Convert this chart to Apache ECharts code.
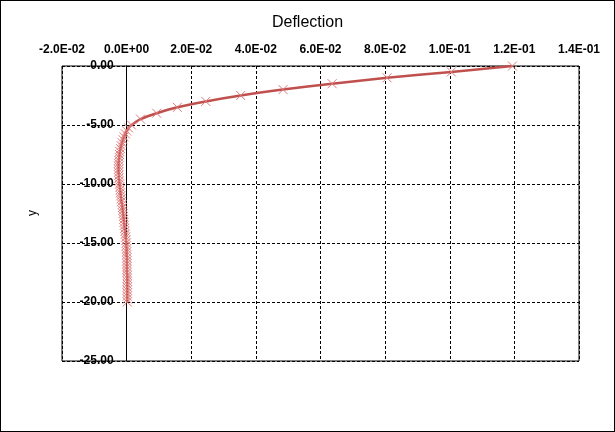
<!DOCTYPE html>
<html>
<head>
<meta charset="utf-8">
<script src="https://cdn.jsdelivr.net/npm/echarts@6/dist/echarts.min.js"></script>
<style>
html,body{margin:0;padding:0;background:#fff;}
#frame{position:absolute;left:0;top:0;width:615px;height:432px;box-sizing:border-box;border:1px solid #000;}
#chart{position:absolute;left:0;top:0;width:615px;height:432px;}
</style>
</head>
<body>
<div id="chart"></div>
<div id="frame"></div>
<script>
// Depth values (y) and deflection values (x)
const depth = [0, -0.5, -1, -1.5, -2, -2.5, -3, -3.5, -4, -4.5, -5,
  -5.25, -5.5, -5.75, -6, -6.25, -6.5, -6.75, -7, -7.25, -7.5, -7.75, -8,
  -8.25, -8.5, -8.75, -9, -9.25, -9.5, -9.75, -10, -10.25, -10.5, -10.75, -11,
  -11.25, -11.5, -11.75, -12, -12.25, -12.5, -12.75, -13, -13.25, -13.5, -13.75, -14,
  -14.25, -14.5, -14.75, -15, -15.25, -15.5, -15.75, -16, -16.25, -16.5, -16.75, -17,
  -17.25, -17.5, -17.75, -18, -18.25, -18.5, -18.75, -19, -19.25, -19.5, -19.75, -20];
const deflection = [0.1194, 0.1005, 0.0806, 0.0636, 0.0484, 0.0353, 0.0245, 0.0157, 0.0093, 0.0043, 0.0015,
  0.0006, 0.0000, -0.0004, -0.0008, -0.0011, -0.0014, -0.0017, -0.0019, -0.0021, -0.0022, -0.0023, -0.0024,
  -0.0025, -0.0025, -0.0025, -0.0025, -0.0024, -0.0024, -0.0023, -0.0022, -0.0021, -0.0020, -0.0019, -0.0018,
  -0.0017, -0.0016, -0.0014, -0.0013, -0.0012, -0.0011, -0.0010, -0.0009, -0.0008, -0.0007, -0.0006, -0.0005,
  -0.0004, -0.0003, -0.0002, -0.0001, -0.0001, 0.0000, 0.0000, 0.0000, 0.0001, 0.0001, 0.0001, 0.0001,
  0.0001, 0.0001, 0.0002, 0.0002, 0.0002, 0.0002, 0.0002, 0.0002, 0.0002, 0.0002, 0.0002, 0.0002];
const titleText = "Deflection";
const yName = "y";
const xMin = -0.02, xMax = 0.14;

const points = deflection.map((v, i) => [v, depth[i]]);

function expFmt(v) {
  let s = Number(v).toExponential(1).toUpperCase();
  s = s.replace(/E([+-])(\d)$/, 'E$10$2');
  return s;
}

const gridLeft = 62, gridWidth = 517;
const zeroOffset = gridWidth * (0 - xMin) / (xMax - xMin);

const chart = echarts.init(document.getElementById('chart'), null, {renderer: 'canvas'});
chart.setOption({
  animation: false,
  backgroundColor: '#fff',
  title: {
    text: titleText, left: 'center', top: 10,
    textStyle: {fontFamily: 'Liberation Sans, Arial', fontSize: 16, fontWeight: 'normal', color: '#000'}
  },
  grid: {left: gridLeft, top: 66, width: gridWidth, height: 295, containLabel: false, outerBoundsMode: 'none',
    show: true, borderColor: '#000', borderWidth: 1, backgroundColor: '#fff'},
  xAxis: {
    type: 'value', position: 'top', min: xMin, max: xMax, interval: 0.02,
    axisLine: {show: false, onZero: false},
    axisTick: {show: false},
    axisLabel: {formatter: expFmt, fontFamily: 'Liberation Sans, Arial', fontSize: 12, fontWeight: 'bold', color: '#000', margin: 10},
    splitLine: {show: true, lineStyle: {color: '#000', type: [3, 2], width: 1}}
  },
  yAxis: {
    type: 'value', min: -25, max: 0, interval: 5,
    position: 'left', offset: -zeroOffset,
    axisLine: {show: true, onZero: false, lineStyle: {color: '#000', width: 1}},
    axisTick: {show: false},
    axisLabel: {formatter: v => v.toFixed(2), fontFamily: 'Liberation Sans, Arial', fontSize: 12, fontWeight: 'bold', color: '#000', margin: 13},
    splitLine: {show: true, lineStyle: {color: '#000', type: [3, 2], width: 1}}
  },
  graphic: [{
    type: 'text', x: 33, y: 213, rotation: Math.PI / 2,
    style: {text: yName, font: '12px "Liberation Sans", Arial', fill: '#000', align: 'center', verticalAlign: 'middle'}
  }],
  series: [{
    type: 'line',
    data: points,
    smooth: 0.25,
    symbol: 'path://M0,0L10,10M10,0L0,10',
    symbolSize: 9,
    showSymbol: true,
    lineStyle: {color: '#c0504d', width: 2.5},
    itemStyle: {color: 'rgba(0,0,0,0)', borderColor: '#de7c7c', borderWidth: 1},
    z: 3
  }]
});
</script>
</body>
</html>
